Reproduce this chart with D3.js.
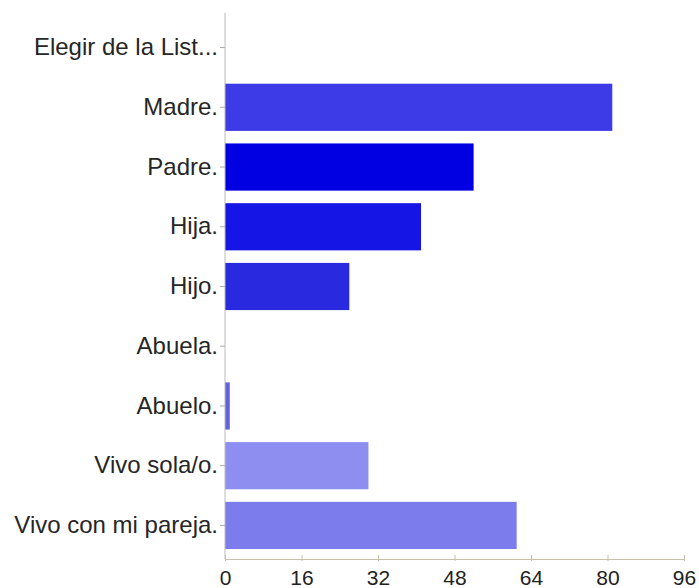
<!DOCTYPE html>
<html lang="es">
<head>
<meta charset="UTF-8">
<title>Bar chart</title>
<style>
  body { margin: 0; background: white; }
  svg { display: block; font-family: "Liberation Sans", Arial, sans-serif; }
</style>
<script src="https://d3js.org/d3.v7.min.js"></script>
</head>
<body>
<svg id="svg"></svg>
<script>
const width = 699;
const height = 588;

const categories = ["Elegir de la List...", "Madre.", "Padre.", "Hija.", "Hijo.", "Abuela.", "Abuelo.", "Vivo sola/o.", "Vivo con mi pareja."];
const values = [0, 81, 52, 41, 26, 0, 1, 30, 61];
const barColors = ["#3a3ae6", "#3d3ae8", "#0000e2", "#1515e6", "#2929e0", "#5a5ae0", "#6262da", "#8e8ef0", "#7c7cec"];
const xTicks = [0, 16, 32, 48, 64, 80, 96];

const margin = { left: 225, top: 18, axisY: 559 };

const svg = d3.select('#svg').attr('width', width).attr('height', height);

const x = d3.scaleLinear().domain([0, 96]).range([margin.left, 684]);
const y = d3.scaleBand().domain(categories).range([margin.top, 555]).paddingInner(0.21).paddingOuter(0.1);

// bars
svg.selectAll('rect.bar')
  .data(categories)
  .enter()
  .append('rect')
  .attr('class', 'bar')
  .attr('x', x(0))
  .attr('y', d => y(d))
  .attr('width', (d, i) => x(values[i]) - x(0))
  .attr('height', y.bandwidth())
  .attr('fill', (d, i) => barColors[i]);

// y axis
const yAxis = svg.append('g')
  .attr('transform', 'translate(' + x(0) + ',0)')
  .call(d3.axisLeft(y).tickSize(5).tickPadding(2));
yAxis.select('.domain').remove();
yAxis.selectAll('.tick line').attr('stroke', '#aaa');
yAxis.selectAll('text').attr('font-size', 24).attr('fill', '#262626');
svg.append('line')
  .attr('x1', x(0)).attr('x2', x(0))
  .attr('y1', 13).attr('y2', margin.axisY)
  .attr('stroke', '#bbb');

// x axis
const xAxis = svg.append('g')
  .attr('transform', 'translate(0,' + margin.axisY + ')')
  .call(d3.axisBottom(x).tickValues(xTicks).tickSize(4).tickSizeOuter(0).tickPadding(7));
xAxis.select('.domain').attr('stroke', '#c8c0a8');
xAxis.selectAll('.tick line').attr('stroke', '#c8c0a8').attr('y1', -4).attr('y2', 2);
xAxis.selectAll('text').attr('font-size', 21).attr('fill', '#222');
</script>
</body>
</html>
